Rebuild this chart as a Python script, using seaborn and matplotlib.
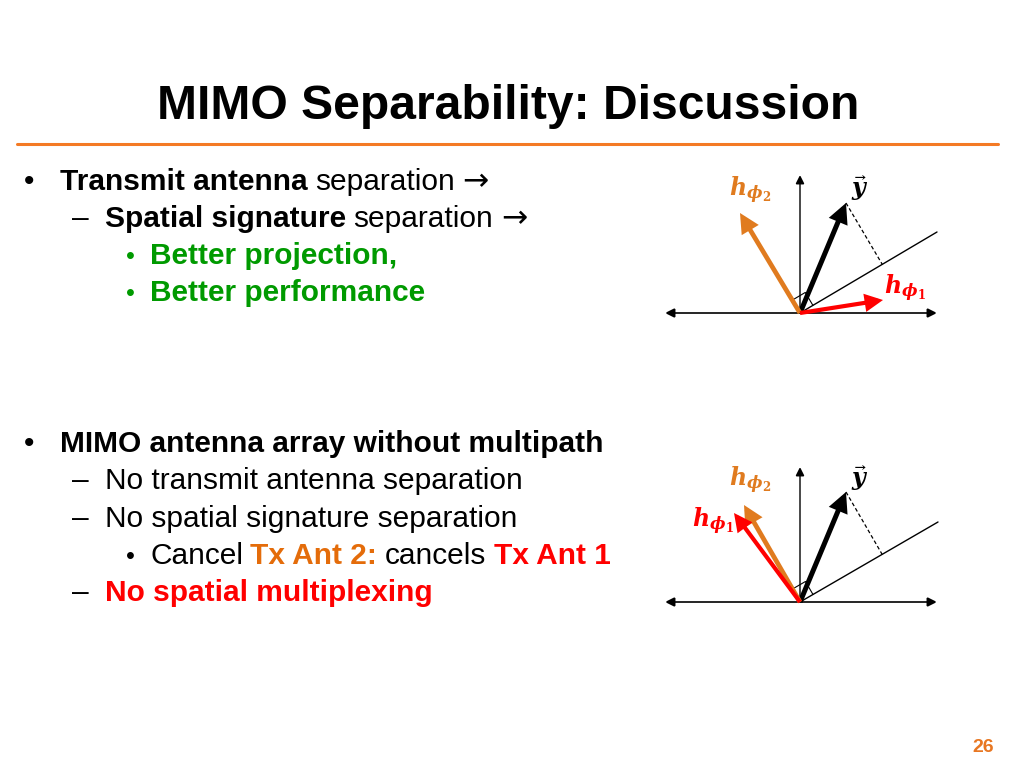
import numpy as np
import matplotlib
matplotlib.use("Agg")
import matplotlib.pyplot as plt
import seaborn as sns

sns.set_theme(style="white")
SANS = ["Liberation Sans", "DejaVu Sans"]
plt.rcParams["font.family"] = SANS
plt.rcParams["mathtext.fontset"] = "dejavuserif"

# ---------------- data ----------------
title = "MIMO Separability: Discussion"
page_number = "26"

# text lines: (level, y_baseline_px, [(text, bold, colour), ...])
BLACK, GREEN, ORANGE, RED = "#000000", "#009A00", "#E46C0A", "#FF0000"
ARROW = "\u2192"
block_lines = [
    (0, 190, [("Transmit antenna", True, BLACK), ("separation", False, BLACK), (ARROW, False, BLACK)]),
    (1, 227, [("Spatial signature", True, BLACK), ("separation", False, BLACK), (ARROW, False, BLACK)]),
    (2, 264, [("Better projection,", True, GREEN)]),
    (2, 301, [("Better performance", True, GREEN)]),
    (0, 452, [("MIMO antenna array without multipath", True, BLACK)]),
    (1, 489, [("No transmit antenna separation", False, BLACK)]),
    (1, 527, [("No spatial signature separation", False, BLACK)]),
    (2, 564, [("Cancel", False, BLACK), ("Tx Ant 2:", True, ORANGE),
              ("cancels", False, BLACK), ("Tx Ant 1", True, RED)]),
    (1, 601, [("No spatial multiplexing", True, RED)]),
]
level_marker = {0: "\u2022", 1: "\u2013", 2: "\u2022"}
level_marker_x = {0: 24, 1: 72, 2: 126}
level_text_x = {0: 60, 1: 105, 2: 150}

# diagram vectors (pixel offsets from origin, y up)
diag_origins = [(800, 313), (800, 602)]
axis_left = [-135, -135]
axis_right = [137, 137]
axis_up = [138, 135]
vec_h2 = [(-60, 100), (-56, 97)]
vec_h1 = [(83, 13), (-66, 89)]
vec_y = [(46, 110), (46, 110)]
proj_line = [(137, 81), (138, 80)]
label_h2 = [(-50, 123), (-50, 122)]
label_h1 = [(105, 25), (-87, 81)]
label_y = [(60, 125), (60, 124)]

# ---------------- figure ----------------
fig = plt.figure(figsize=(10.24, 7.68), dpi=100)
ax = fig.add_axes([0, 0, 1, 1])
ax.set_xlim(0, 1024)
ax.set_ylim(768, 0)
ax.axis("off")

ax.text(508, 119, title, ha="center", va="baseline", fontsize=34.6,
        fontweight="bold", family=SANS, color="black")
sns.lineplot(x=[17, 998], y=[144, 144], ax=ax, color="#F47A24", lw=2.2)

renderer = fig.canvas.get_renderer()
BODY = 21.5
space_px = 0.25 * BODY * 100 / 72

for level, yb, runs in block_lines:
    mcol = runs[0][2] if level == 2 else BLACK
    ax.text(level_marker_x[level], yb, level_marker[level], ha="left", va="baseline",
            fontsize=BODY if level < 2 else BODY * 0.85, color=mcol,
            family=SANS)
    x = level_text_x[level]
    for txt, bold, col in runs:
        if txt == ARROW:
            t = ax.text(x, yb, txt, ha="left", va="baseline", fontsize=BODY * 1.05,
                        color=col, family=["DejaVu Sans"])
        else:
            t = ax.text(x, yb, txt, ha="left", va="baseline", fontsize=BODY,
                        fontweight="bold" if bold else "normal", color=col,
                        family=SANS)
        bb = t.get_window_extent(renderer=renderer)
        x += bb.width + space_px

ax.text(983, 752, page_number, ha="center", va="baseline", fontsize=14,
        fontweight="bold", color="#E87722", family=SANS)


def P(o, v):
    return (o[0] + v[0], o[1] - v[1])


def arrow(o, v, color, lw, ms, style="-|>", start=None):
    s = P(o, start) if start is not None else o
    ax.annotate("", xy=P(o, v), xytext=s,
                arrowprops=dict(arrowstyle=style, color=color, lw=lw,
                                mutation_scale=ms, shrinkA=0, shrinkB=0,
                                joinstyle="miter", capstyle="butt"))


for i, o in enumerate(diag_origins):
    # axes
    arrow(o, (axis_right[i], 0), "black", 1.2, 14, style="<|-|>", start=(axis_left[i], 0))
    arrow(o, (0, axis_up[i]), "black", 1.0, 13)
    # projection line
    pl = np.array(proj_line[i], float)
    sns.lineplot(x=[o[0], o[0] + pl[0]], y=[o[1], o[1] - pl[1]], ax=ax,
                 color="black", lw=1.0)
    # dashed perpendicular from y tip to line
    u = pl / np.linalg.norm(pl)
    yv = np.array(vec_y[i], float)
    foot = u * (yv @ u)
    sns.lineplot(x=[o[0] + yv[0], o[0] + foot[0]], y=[o[1] - yv[1], o[1] - foot[1]],
                 ax=ax, color="black", lw=0.9, linestyle=(0, (3, 2)))
    # right-angle marker between line and its normal
    nrm = np.array([-u[1], u[0]])
    d = 15
    pts = [nrm * d, (nrm + u) * d, u * d]
    ax.plot([o[0] + p[0] for p in pts], [o[1] - p[1] for p in pts], color="black", lw=0.8)
    # vectors
    arrow(o, vec_y[i], "black", 3.6, 22)
    arrow(o, vec_h2[i], "#E07B1F", 3.4, 22)
    arrow(o, vec_h1[i], "#FF0000", 3.0, 21)
    # labels
    lx, ly = P(o, label_h2[i])
    ax.text(lx, ly, r"$\mathbfit{h}_{\mathbfit{\phi}_{\mathbf{2}}}$", color="#E07B1F",
            fontsize=17, ha="center", va="center")
    lx, ly = P(o, label_h1[i])
    ax.text(lx, ly, r"$\mathbfit{h}_{\mathbfit{\phi}_{\mathbf{1}}}$", color="#FF0000",
            fontsize=17, ha="center", va="center")
    lx, ly = P(o, label_y[i])
    ax.text(lx, ly, r"$\vec{\mathbfit{y}}$", color="black",
            fontsize=17, ha="center", va="center")

fig.savefig("out.png", dpi=100)
